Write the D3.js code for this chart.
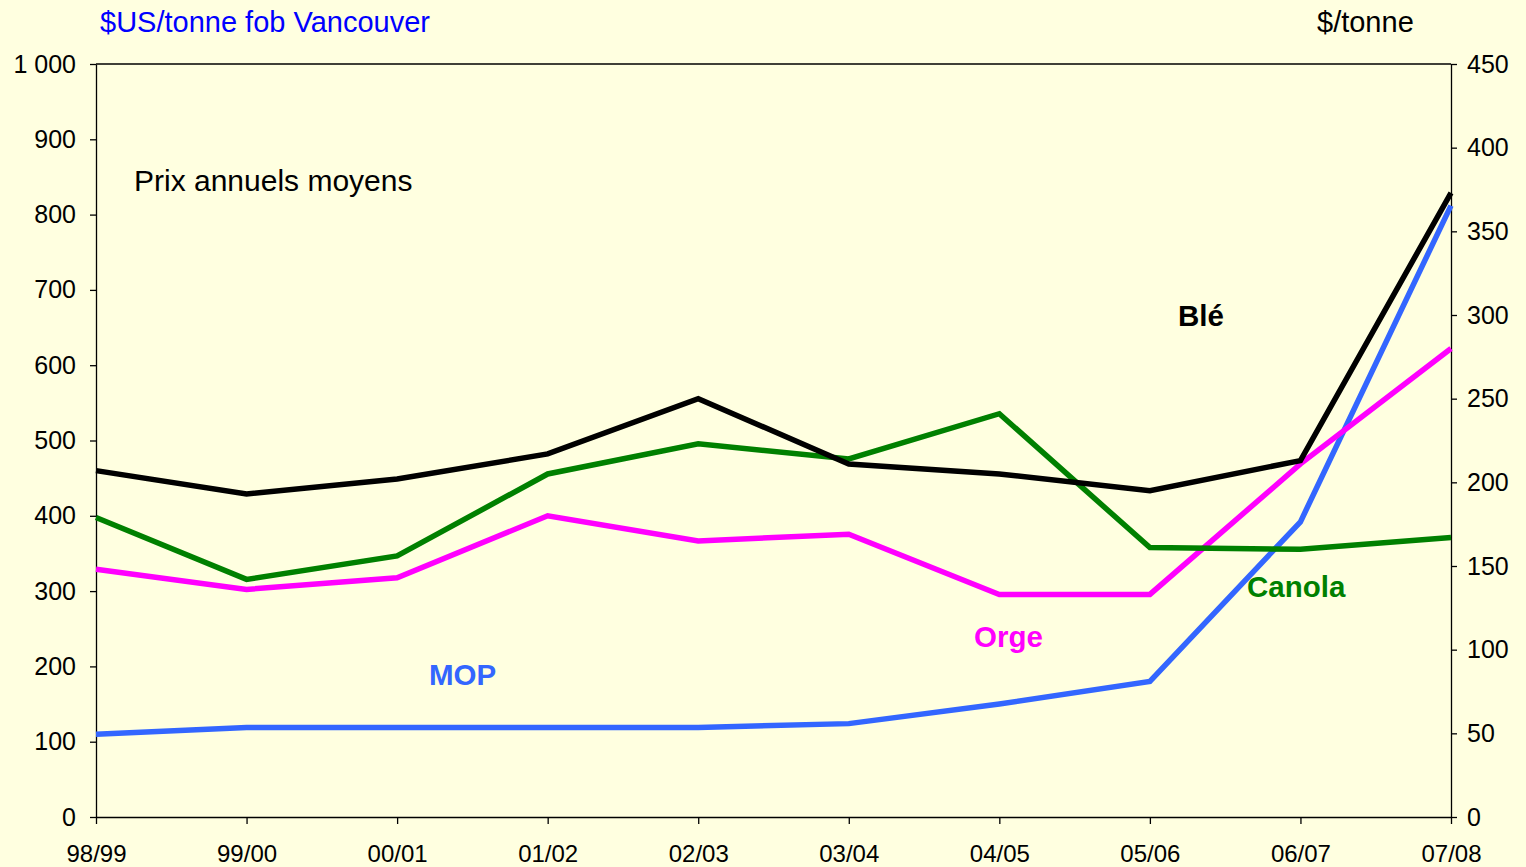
<!DOCTYPE html>
<html>
<head>
<meta charset="utf-8">
<title>Prix annuels moyens</title>
<script src="https://d3js.org/d3.v7.min.js"></script>
<style>
    body { margin: 0; background: #ffffe0; font-family: "Liberation Sans", Arial, sans-serif; }
    .axis path, .axis line { stroke: #000; stroke-width: 1.3px; }
    .axis text { font-family: "Liberation Sans", Arial, sans-serif; fill: #000; }
    .ln { fill: none; stroke-width: 5.5px; stroke-linejoin: miter; }
</style>
</head>
<body>
<svg id="chart"></svg>
<script>
// campagnes
var years = ["98/99","99/00","00/01","01/02","02/03","03/04","04/05","05/06","06/07","07/08"];
// MOP, axe de gauche ($US/tonne fob Vancouver)
var mop = [110, 119, 119, 119, 119, 124, 150, 180, 392, 812];
// grains, axe de droite ($/tonne)
var ble    = [207, 193, 202, 217, 250, 211, 205, 195, 213, 373];
var canola = [179, 142, 156, 205, 223, 214, 241, 161, 160, 167];
var orge   = [148, 136, 143, 180, 165, 169, 133, 133, 211, 280];

var leftTicks = [0,100,200,300,400,500,600,700,800,900,1000];
var rightTicks = [0,50,100,150,200,250,300,350,400,450];

var W = 1526, H = 867,
    m = {top: 64, right: 75, bottom: 50, left: 96};

var svg = d3.select("#chart").attr("width", W).attr("height", H);
svg.append("rect").attr("width", W).attr("height", H).attr("fill", "#ffffe0");

var x = d3.scalePoint().domain(years).range([m.left, W - m.right]);
var yL = d3.scaleLinear().domain([0, 1000]).range([H - m.bottom, m.top]);
var yR = d3.scaleLinear().domain([0, 450]).range([H - m.bottom, m.top]);

var fmt = function(d){ return d >= 1000 ? d3.format(",")(d).replace(",", " ") : d; };

//axes
var gl = svg.append("g").attr("class","axis").attr("transform","translate("+m.left+",0)")
    .call(d3.axisLeft(yL).tickValues(leftTicks).tickFormat(fmt).tickSize(6).tickPadding(14).tickSizeOuter(0));
gl.selectAll("text").style("font-size","25px");

var gr = svg.append("g").attr("class","axis").attr("transform","translate("+(W - m.right)+",0)")
    .call(d3.axisRight(yR).tickValues(rightTicks).tickSize(6).tickPadding(10).tickSizeOuter(0));
gr.selectAll("text").style("font-size","25px");

var gb = svg.append("g").attr("class","axis").attr("transform","translate(0,"+(H - m.bottom)+")")
    .call(d3.axisBottom(x).tickSize(7).tickPadding(21).tickSizeOuter(0));
gb.selectAll("text").style("font-size","24px");

//top border
svg.append("line").attr("x1", m.left).attr("x2", W - m.right).attr("y1", m.top).attr("y2", m.top)
    .attr("stroke","#000").attr("stroke-width",1.3);

//lines
var lineL = d3.line().x(function(d,i){ return x(years[i]); }).y(function(d){ return yL(d); });
var lineR = d3.line().x(function(d,i){ return x(years[i]); }).y(function(d){ return yR(d); });

svg.append("path").datum(mop).attr("class","ln").attr("stroke","#3366ff").attr("d", lineL);
svg.append("path").datum(orge).attr("class","ln").attr("stroke","#ff00ff").attr("d", lineR);
svg.append("path").datum(canola).attr("class","ln").attr("stroke","#008000").attr("d", lineR);
svg.append("path").datum(ble).attr("class","ln").attr("stroke","#000").attr("d", lineR);

//texts
svg.append("text").attr("x",100).attr("y",32).attr("fill","#0000ff").style("font-size","29px")
    .text("$US/tonne fob Vancouver");
svg.append("text").attr("x",1317).attr("y",32).attr("fill","#000").style("font-size","29px")
    .text("$/tonne");
svg.append("text").attr("x",134).attr("y",191).attr("fill","#000").style("font-size","30px")
    .text("Prix annuels moyens");

var labels = [
    {t:"Blé", x:1178, y:326, c:"#000"},
    {t:"Canola", x:1247, y:597, c:"#008000"},
    {t:"Orge", x:974, y:647, c:"#ff00ff"},
    {t:"MOP", x:429, y:685, c:"#3366ff"}
];
svg.selectAll(".lbl").data(labels).enter().append("text")
    .attr("x", function(d){ return d.x; }).attr("y", function(d){ return d.y; })
    .attr("fill", function(d){ return d.c; })
    .style("font-size","29.5px").style("font-weight","bold")
    .text(function(d){ return d.t; });
</script>
</body>
</html>
